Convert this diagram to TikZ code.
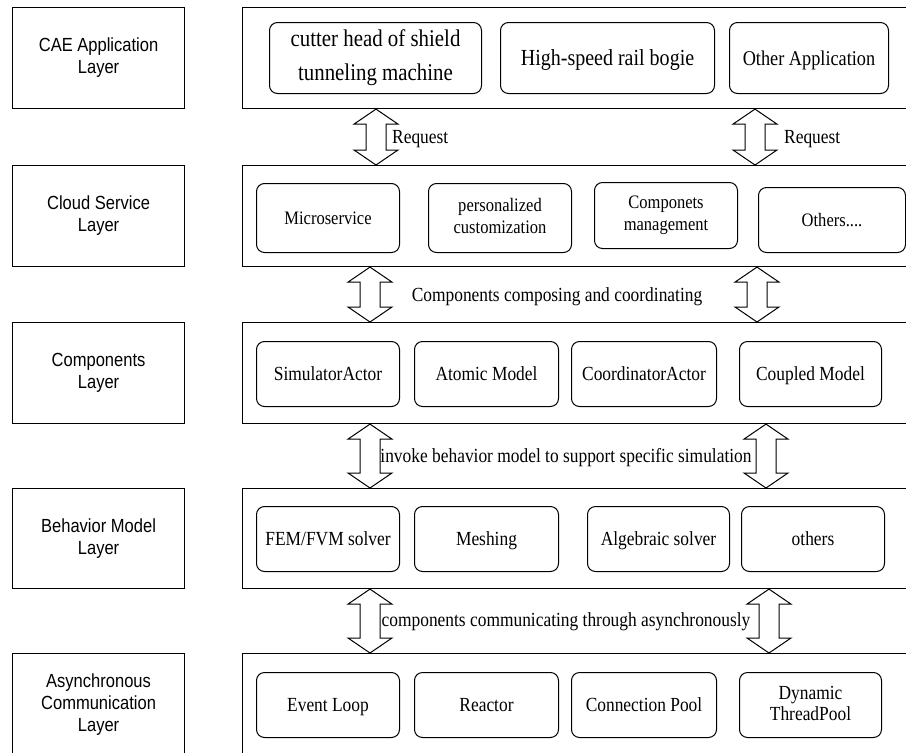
\documentclass[tikz,border=0pt]{standalone}
\usepackage{fontspec}
\setmainfont{Liberation Serif}[FakeStretch=0.87]
\newfontfamily\lblfont{Liberation Sans}[FakeStretch=0.87]
\usetikzlibrary{calc}

\newcommand\fsz[2]{\fontsize{#1}{#2}\selectfont}
% strut that centres the capitals of a text block on its node centre
\newcommand\capstrut{\rule[-0.2\baselineskip]{0pt}{\baselineskip}}

\tikzset{
  layerbox/.style={draw, line width=1.1pt, anchor=north west, inner sep=0pt,
    align=center, font=\lblfont\fsz{19}{22}, minimum width=172,
    execute at begin node=\capstrut, execute at end node=\capstrut},
  panel/.style={draw, line width=1.1pt, anchor=north west, inner sep=0pt,
    minimum width=680},
  item/.style={draw, line width=1pt, rounded corners=8pt, anchor=north west,
    inner sep=0pt, align=center, font=\fsz{20}{22},
    execute at begin node=\capstrut, execute at end node=\capstrut},
  flowlbl/.style={inner sep=0pt, font=\fsz{20}{22},
    execute at begin node=\capstrut},
  blockarrow/.style={draw, fill=white, line width=1pt, line join=miter},
}

% hollow double-headed block arrow between a top and a bottom coordinate
\newcommand\dblarrow[2]{%
  \draw[blockarrow] let \p1=(#1), \p2=(#2) in
    (\x1,\y1) -- (\x1+22pt,\y1-15pt) -- (\x1+10pt,\y1-15pt)
    -- (\x1+10pt,\y2+15pt) -- (\x1+22pt,\y2+15pt) -- (\x1,\y2)
    -- (\x1-22pt,\y2+15pt) -- (\x1-10pt,\y2+15pt)
    -- (\x1-10pt,\y1-15pt) -- (\x1-22pt,\y1-15pt) -- cycle;}

\begin{document}
\begin{tikzpicture}[x=1pt,y=-1pt]
\useasboundingbox (0,0) rectangle (906,753);

% layer names
\node[layerbox, minimum height=101] (lcae)   at (12,7)   {CAE Application\\Layer};
\node[layerbox, minimum height=101] (lcloud) at (12,165) {Cloud Service\\Layer};
\node[layerbox, minimum height=101] (lcomp)  at (12,322) {Components\\Layer};
\node[layerbox, minimum height=100] (lbeh)   at (12,488) {Behavior Model\\Layer};
\node[layerbox, minimum height=102] (lasync) at (12,653) {Asynchronous\\Communication\\Layer};

% layer panels
\node[panel, minimum height=101] (ccae)   at (242,7)   {};
\node[panel, minimum height=101] (ccloud) at (242,165) {};
\node[panel, minimum height=101] (ccomp)  at (242,322) {};
\node[panel, minimum height=100] (cbeh)   at (242,488) {};
\node[panel, minimum height=102] (casync) at (242,653) {};

% CAE application layer
\node[item, minimum width=212, minimum height=71, font=\fsz{24}{34}] (cutter) at (269,22)
  {cutter head of shield\\tunneling machine};
\node[item, minimum width=214, minimum height=71, font=\fsz{23}{26}] (bogie) at (500,22)
  {High-speed rail bogie};
\node[item, minimum width=159, minimum height=71, font=\fsz{21}{24}] (otherapp) at (729,22)
  {Other Application};

% cloud service layer
\node[item, minimum width=143, minimum height=69, font=\fsz{19}{22}] (micro) at (256,183) {Microservice};
\node[item, minimum width=143, minimum height=69, font=\fsz{19}{22}] (custom) at (428,183) {personalized\\customization};
\node[item, minimum width=143, minimum height=66, font=\fsz{19}{22}] (mgmt) at (594,182) {Componets\\management};
\node[item, minimum width=147, minimum height=65, font=\fsz{19}{22}] (others) at (758,187) {Others....};

% components layer
\node[item, minimum width=143, minimum height=65] (simact)   at (256,341) {SimulatorActor};
\node[item, minimum width=144, minimum height=65] (atomic)   at (414,341) {Atomic Model};
\node[item, minimum width=145, minimum height=65] (coordact) at (571,341) {CoordinatorActor};
\node[item, minimum width=142, minimum height=65] (coupled)  at (739,341) {Coupled Model};

% behavior model layer
\node[item, minimum width=143, minimum height=65] (fem)     at (256,506) {FEM/FVM solver};
\node[item, minimum width=144, minimum height=65] (mesh)    at (414,506) {Meshing};
\node[item, minimum width=142, minimum height=65] (alg)     at (587,506) {Algebraic solver};
\node[item, minimum width=143, minimum height=65] (othersb) at (741,506) {others};

% asynchronous communication layer
\node[item, minimum width=143, minimum height=65] (evloop)   at (256,672) {Event Loop};
\node[item, minimum width=144, minimum height=65] (reactor)  at (414,672) {Reactor};
\node[item, minimum width=145, minimum height=65] (connpool) at (571,672) {Connection Pool};
\node[item, minimum width=142, minimum height=65, font=\fsz{20}{21}] (dynpool) at (739,672) {Dynamic\\ThreadPool};

% arrow end points on the panel borders
\coordinate (a1t) at (376,0 |- ccae.south);   \coordinate (a1b) at (376,0 |- ccloud.north);
\coordinate (a2t) at (755,0 |- ccae.south);   \coordinate (a2b) at (755,0 |- ccloud.north);
\coordinate (b1t) at (370,0 |- ccloud.south); \coordinate (b1b) at (370,0 |- ccomp.north);
\coordinate (b2t) at (757,0 |- ccloud.south); \coordinate (b2b) at (757,0 |- ccomp.north);
\coordinate (c1t) at (370,0 |- ccomp.south);  \coordinate (c1b) at (370,0 |- cbeh.north);
\coordinate (c2t) at (766,0 |- ccomp.south);  \coordinate (c2b) at (766,0 |- cbeh.north);
\coordinate (d1t) at (370,0 |- cbeh.south);   \coordinate (d1b) at (370,0 |- casync.north);
\coordinate (d2t) at (769,0 |- cbeh.south);   \coordinate (d2b) at (769,0 |- casync.north);

\dblarrow{a1t}{a1b} \dblarrow{a2t}{a2b}
\dblarrow{b1t}{b1b} \dblarrow{b2t}{b2b}
\dblarrow{c1t}{c1b} \dblarrow{c2t}{c2b}
\dblarrow{d1t}{d1b} \dblarrow{d2t}{d2b}

% arrow captions
\node[flowlbl, anchor=west] (req1) at (392,137) {Request};
\node[flowlbl, anchor=west] (req2) at (784,137) {Request};
\node[flowlbl] (compose) at (557,295) {Components composing and coordinating};
\node[flowlbl] (invoke)  at (566,456) {invoke behavior model to support specific simulation};
\node[flowlbl] (asyncmsg) at (566,620) {components communicating through asynchronously};
\end{tikzpicture}
\end{document}
